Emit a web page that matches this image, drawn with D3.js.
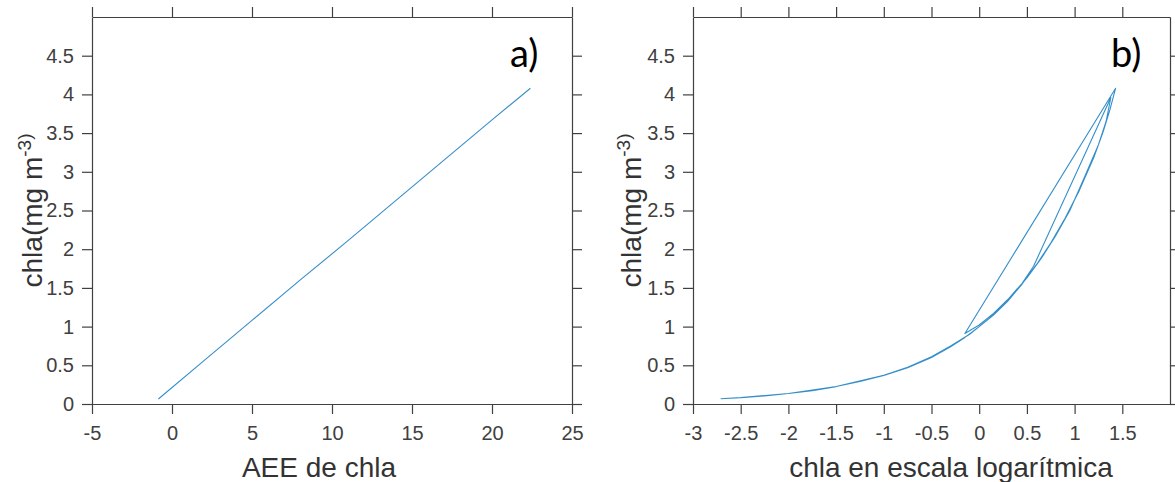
<!DOCTYPE html>
<html>
<head>
<meta charset="utf-8">
<script src="https://cdn.jsdelivr.net/npm/d3@7"></script>
<style>
  body { margin: 0; background: #fff; }
  svg { display: block; }
</style>
</head>
<body>
<svg id="chart" width="1175" height="482"></svg>
<script>
// ---------- data ----------
// Panel a: chla vs. AEE de chla
const aeeX  = [-0.85, 2.0, 5.0, 8.0, 11.0, 14.0, 17.0, 20.0, 22.4];
const aeeY  = [0.065, 0.56, 1.08, 1.60, 2.11, 2.63, 3.15, 3.67, 4.08];

// Panel b: chla vs. chla on log scale (path in original drawing order)
const logX  = [-2.71, -2.5, -2.25, -2.0, -1.75, -1.5, -1.25, -1.0, -0.75, -0.5, -0.3, -0.15, 0.0, 0.15, 0.3, 0.45, 0.6, 0.75, 0.9, 1.05, 1.2, 1.3, 1.37, 1.43,
               -0.15, 0.0, 0.15, 0.3, 0.45, 0.57,
               1.38, 1.33, 1.25, 1.1, 0.95, 0.8, 0.65, 0.5, 0.3, 0.1, -0.1, -0.3, -0.5, -0.75, -1.0, -1.5, -2.0, -2.5];
const chlaY = [0.068, 0.083, 0.105, 0.135, 0.172, 0.225, 0.29, 0.37, 0.47, 0.60, 0.74, 0.86, 1.0, 1.15, 1.33, 1.55, 1.80, 2.08, 2.40, 2.76, 3.18, 3.52, 3.80, 4.08,
               0.91, 1.02, 1.17, 1.35, 1.56, 1.78,
               3.96, 3.65, 3.35, 2.92, 2.50, 2.17, 1.88, 1.63, 1.34, 1.10, 0.90, 0.75, 0.61, 0.475, 0.372, 0.226, 0.136, 0.084];

const yTicks      = [0, 0.5, 1, 1.5, 2, 2.5, 3, 3.5, 4, 4.5];
const xTicksA     = [-5, 0, 5, 10, 15, 20, 25];
const xTicksB     = [-3, -2.5, -2, -1.5, -1, -0.5, 0, 0.5, 1, 1.5];
const xLabelA     = "AEE de chla";
const xLabelB     = "chla en escala logarítmica";
const panelTags   = ["a)", "b)"];

// ---------- drawing ----------
const svg = d3.select("#chart");
const plotTop = 17, plotBottom = 404;
const y = d3.scaleLinear().domain([0, 5]).range([plotBottom, plotTop]);

const axisColor = "#404040";
const fontTicks = "Liberation Sans, Arial, sans-serif";
const lineColor = "#0072BD";

function panel(cfg) {
  const x = d3.scaleLinear().domain(cfg.xDomain).range([cfg.left, cfg.right]);
  const g = svg.append("g");

  const fmt = d => String(d);

  const gb = g.append("g").attr("transform", `translate(0,${plotBottom})`)
    .call(d3.axisBottom(x).tickValues(cfg.xTicks).tickFormat(fmt).tickSize(10).tickSizeOuter(0).tickPadding(12));
  const gt = g.append("g").attr("transform", `translate(0,${plotTop})`)
    .call(d3.axisTop(x).tickValues(cfg.xTicks).tickFormat("").tickSize(10).tickSizeOuter(0));
  const gl = g.append("g").attr("transform", `translate(${cfg.left},0)`)
    .call(d3.axisLeft(y).tickValues(yTicks).tickFormat(fmt).tickSize(10).tickSizeOuter(0).tickPadding(8));
  const gr = g.append("g").attr("transform", `translate(${cfg.right},0)`)
    .call(d3.axisRight(y).tickValues(yTicks).tickFormat("").tickSize(10).tickSizeOuter(0));

  [gb, gt, gl, gr].forEach(a => {
    a.selectAll("path.domain").attr("stroke", axisColor).attr("stroke-width", 1.2);
    a.selectAll(".tick line").attr("stroke", axisColor).attr("stroke-width", 1.2);
    a.selectAll(".tick text").attr("fill", axisColor)
      .style("font-family", fontTicks).style("font-size", "20px");
  });

  const pts = cfg.xs.map((v, i) => [v, cfg.ys[i]]);
  g.append("path")
    .datum(pts)
    .attr("fill", "none")
    .attr("stroke", lineColor)
    .attr("stroke-opacity", 0.8)
    .attr("stroke-width", 1.1)
    .attr("stroke-linejoin", "round")
    .attr("d", d3.line().x(d => x(d[0])).y(d => y(d[1])));

  g.append("text")
    .attr("x", cfg.xTitleX).attr("y", 477)
    .attr("text-anchor", "middle")
    .attr("fill", "#333")
    .style("font-family", fontTicks).style("font-size", "28px")
    .text(cfg.xLabel);

  const yt = g.append("text")
    .attr("transform", `translate(${cfg.yTitleX},${(plotTop + plotBottom) / 2}) rotate(-90)`)
    .attr("text-anchor", "middle")
    .attr("fill", "#333")
    .style("font-family", fontTicks).style("font-size", "28px");
  yt.append("tspan").text("chla(mg m");
  yt.append("tspan").attr("dy", -11).style("font-size", "19px").text("-3)");

  g.append("text")
    .attr("x", cfg.tagX).attr("y", 67)
    .attr("fill", "#000")
    .style("font-family", "Lato, Carlito, Calibri, sans-serif").style("font-size", "38px")
    .text(cfg.tag);
}

panel({ left: 92, right: 572, xDomain: [-5, 25], xTicks: xTicksA, xs: aeeX, ys: aeeY,
        xLabel: xLabelA, xTitleX: 319, yTitleX: 42, tag: panelTags[0], tagX: 510 });
panel({ left: 693, right: 1170, xDomain: [-3, 2], xTicks: xTicksB, xs: logX, ys: chlaY,
        xLabel: xLabelB, xTitleX: 951, yTitleX: 641, tag: panelTags[1], tagX: 1111 });
</script>
</body>
</html>
